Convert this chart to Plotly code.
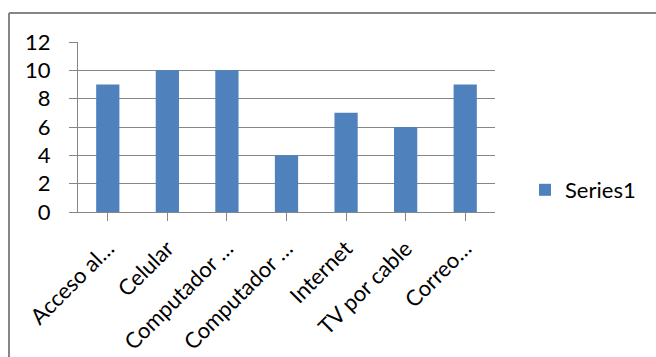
import plotly.graph_objects as go

categories = ["Acceso al…", "Celular", "Computador …", "Computador …", "Internet", "TV por cable", "Correo…"]
values = [9, 10, 10, 4, 7, 6, 9]
y_ticks = [0, 2, 4, 6, 8, 10, 12]
series_name = "Series1"

W, H = 656, 357
ml, mr, mt, mb = 78, 161, 42, 145
pw, ph = W - ml - mr, H - mt - mb

def px_x(x):
    return (x - ml) / pw

def px_y(y):
    return (H - mb - y) / ph

font = "Lato, Calibri, Carlito, sans-serif"
grey = "#868686"

fig = go.Figure(go.Bar(
    x=list(range(len(categories))), y=values, name=series_name,
    marker=dict(color="#4F81BD", line=dict(width=0)),
    showlegend=True,
))

fig.update_layout(
    width=W, height=H,
    margin=dict(l=ml, r=mr, t=mt, b=mb, pad=0, autoexpand=False),
    paper_bgcolor="white", plot_bgcolor="white",
    bargap=0.61,
    font=dict(family=font, size=21, color="black"),
    legend=dict(x=px_x(525), y=px_y(190), xanchor="left", yanchor="middle",
                font=dict(size=22), bgcolor="rgba(0,0,0,0)"),
    shapes=[
        dict(type="line", xref="paper", yref="paper",
             x0=px_x(9), x1=px_x(700), y0=px_y(13), y1=px_y(13),
             line=dict(color=grey, width=2)),
        dict(type="line", xref="paper", yref="paper",
             x0=px_x(9), x1=px_x(9), y0=px_y(13), y1=px_y(400),
             line=dict(color=grey, width=2)),
    ],
)

fig.update_xaxes(
    tickmode="array", tickvals=list(range(len(categories))), ticktext=categories,
    range=[-0.5, len(categories) - 0.5], automargin=False,
    tickangle=-45, showline=True, linecolor=grey, linewidth=1,
    ticks="outside", ticklen=8, tickcolor=grey, tickson="boundaries",
    showgrid=False, tickfont=dict(size=22), ticklabelstandoff=6,
)
fig.update_yaxes(
    range=[0, 12], tickvals=y_ticks, showline=True, linecolor=grey, linewidth=1,
    ticks="outside", ticklen=8, tickcolor=grey, automargin=False,
    showgrid=True, gridcolor=grey, gridwidth=1, zeroline=False,
    tickfont=dict(size=22), ticklabelstandoff=14,
)

fig.write_html("out.html")
